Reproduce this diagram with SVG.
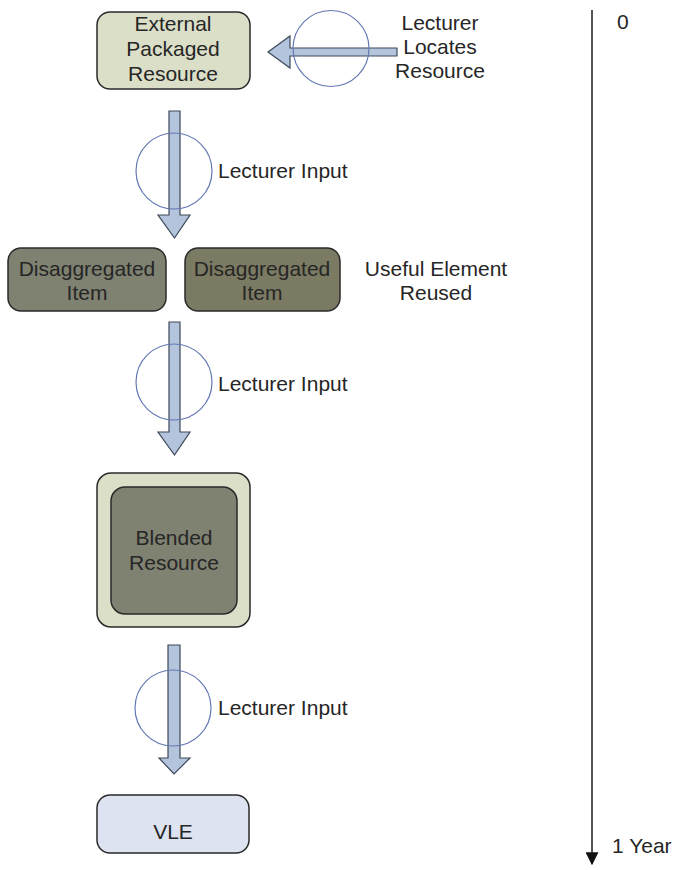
<svg xmlns="http://www.w3.org/2000/svg" width="679" height="870" viewBox="0 0 679 870">
<style>
text{font-family:"Liberation Sans",Arial,sans-serif;font-size:21px;fill:#262626;text-anchor:middle;dominant-baseline:central}
.lbl{text-anchor:start}
.box{stroke:#2a2a2a;stroke-width:1.5}
.arr{fill:#b4c4dc;stroke:#3c4858;stroke-width:1.2}
.ring{fill:none;stroke:#6478b4;stroke-width:1.2}
</style>
<defs>
<marker id="tip" viewBox="0 0 10 10" refX="9" refY="5" markerWidth="13" markerHeight="13" markerUnits="userSpaceOnUse" orient="auto"><path d="M0,0 L10,5 L0,10 z" fill="#111"/></marker>
</defs>
<rect width="679" height="870" fill="#fff"/>
<g id="n-external">
<rect class="box" x="97" y="12" width="153" height="77" rx="13" fill="#dcdfc8"/>
<text x="173" y="23">External</text>
<text x="173" y="48">Packaged</text>
<text x="173" y="73">Resource</text>
</g>
<g id="n-dis1">
<rect class="box" x="8" y="248" width="158" height="63" rx="13" fill="#7f8171"/>
<text x="87" y="268">Disaggregated</text>
<text x="87" y="292">Item</text>
</g>
<g id="n-dis2">
<rect class="box" x="185" y="248" width="155" height="63" rx="13" fill="#7b7a63"/>
<text x="262" y="268">Disaggregated</text>
<text x="262" y="292">Item</text>
</g>
<g id="n-blended">
<rect class="box" x="97" y="473" width="153" height="154" rx="14" fill="#dcdfc8"/>
<rect class="box" x="111" y="487" width="126" height="127" rx="14" fill="#7f8171"/>
<text x="174" y="537">Blended</text>
<text x="174" y="562">Resource</text>
</g>
<g id="n-vle">
<rect class="box" x="97" y="795" width="152" height="58" rx="13" fill="#dde3f0"/>
<text x="173" y="831">VLE</text>
</g>
<g id="connectors">
<polygon class="arr" points="397,48 290,48 290,36 268,52 290,68 290,56 397,56"/>
<circle class="ring" cx="331" cy="48.5" r="38"/>
<polygon class="arr" points="169,111 180,111 180,215 190,215 174.5,238 158,215 169,215"/>
<circle class="ring" cx="174" cy="171" r="38"/>
<polygon class="arr" points="169,322 180,322 180,432 190,432 174.5,455 158,432 169,432"/>
<circle class="ring" cx="174" cy="382" r="38"/>
<polygon class="arr" points="168,645 180,645 180,758 190,758 174,774 159,758 168,758"/>
<circle class="ring" cx="173" cy="708" r="38"/>
<line x1="592" y1="10" x2="592" y2="864" stroke="#555" stroke-width="2" marker-end="url(#tip)"/>
</g>
<g id="labels">
<text x="440" y="22">Lecturer</text>
<text x="440" y="46">Locates</text>
<text x="440" y="70">Resource</text>
<text class="lbl" x="218" y="170">Lecturer Input</text>
<text x="436" y="268">Useful Element</text>
<text x="436" y="292">Reused</text>
<text class="lbl" x="218" y="383">Lecturer Input</text>
<text class="lbl" x="218" y="707">Lecturer Input</text>
<text class="lbl" x="617" y="21">0</text>
<text class="lbl" x="612" y="845">1 Year</text>
</g>
</svg>
